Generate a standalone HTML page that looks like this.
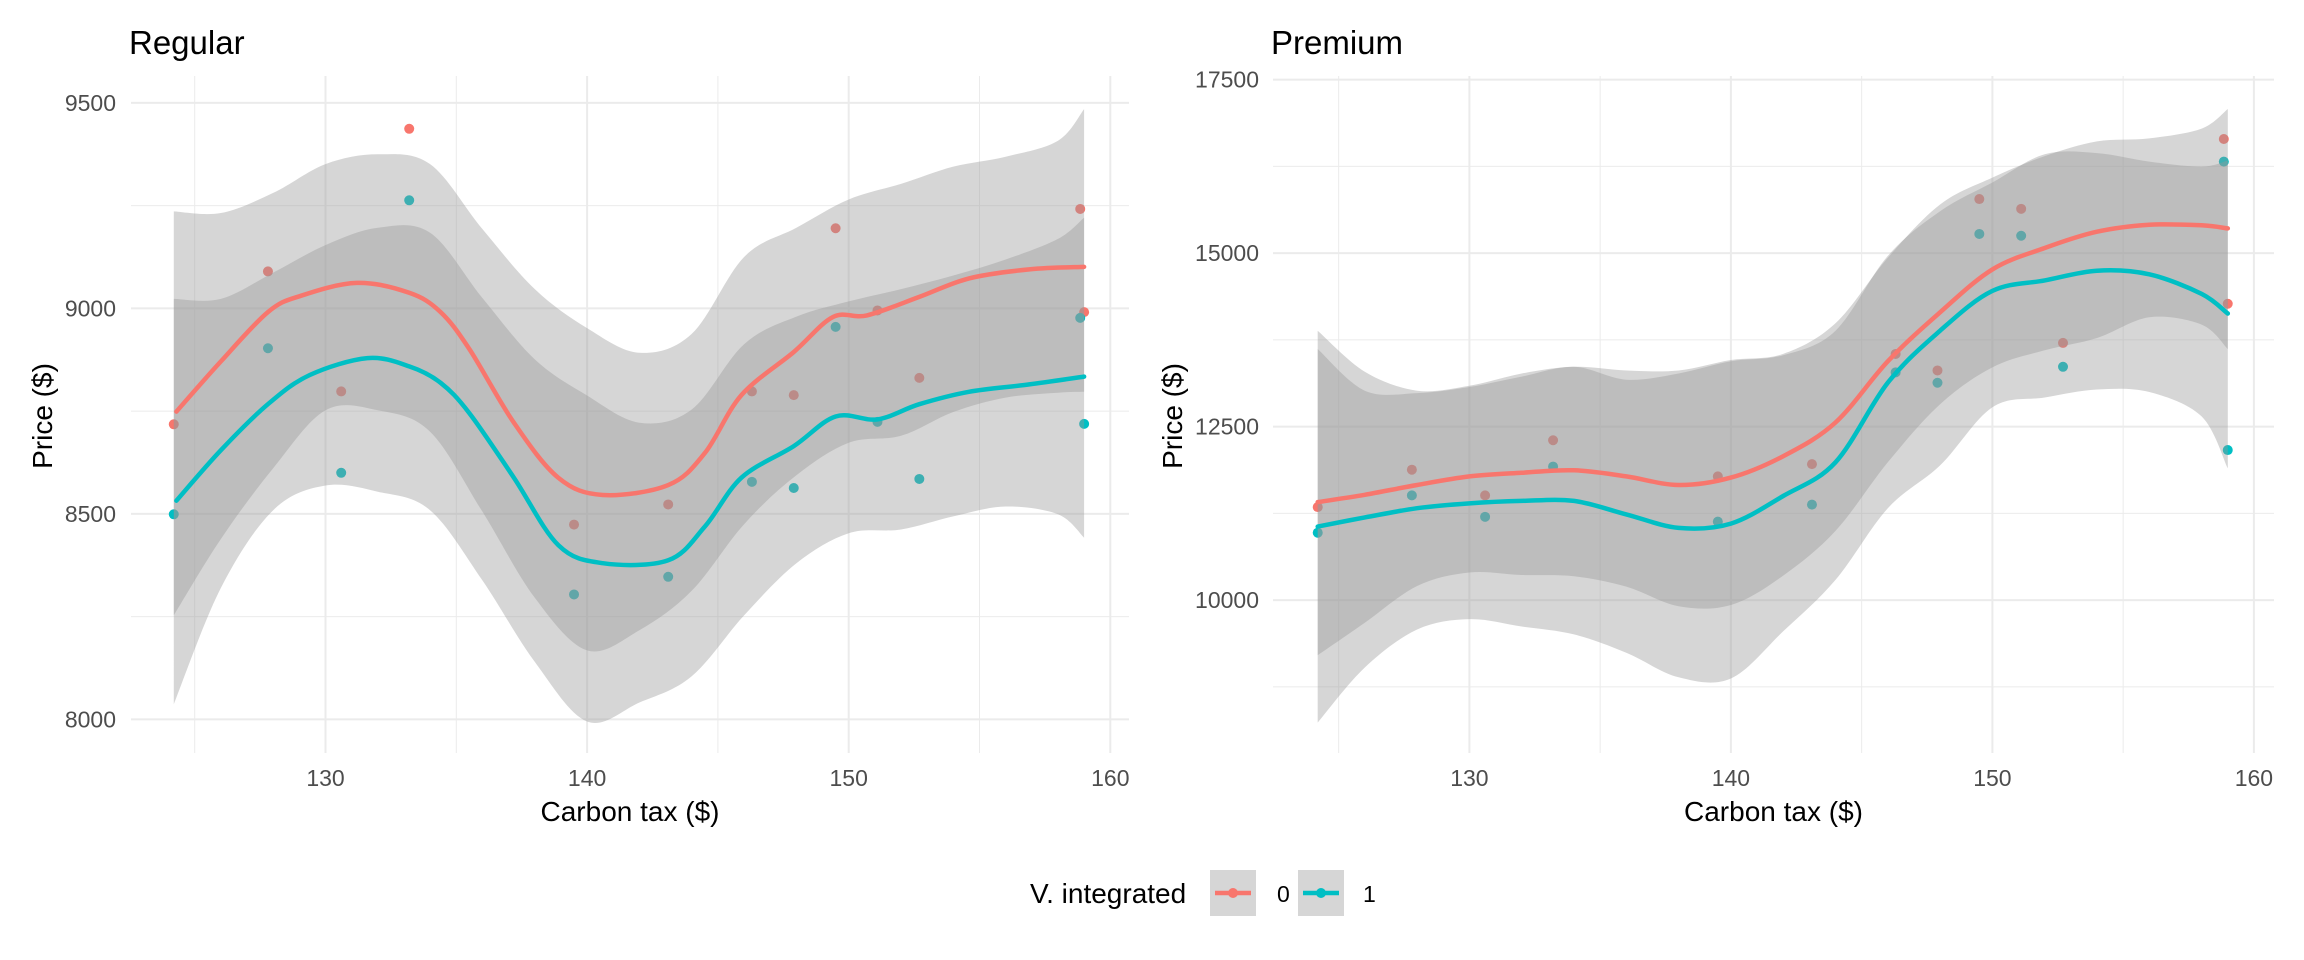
<!DOCTYPE html>
<html><head><meta charset="utf-8"><style>
html,body{margin:0;padding:0;background:#fff;}
svg{display:block;font-family:"Liberation Sans",Arial,sans-serif;}
</style></head><body>
<svg id="chart" width="2304" height="960" viewBox="0 0 2304 960" xmlns="http://www.w3.org/2000/svg"></svg>
<script>
// ---- data ----
const taxPts = [124.2,127.8,130.6,133.2,139.5,143.1,146.3,147.9,149.5,151.1,152.7,158.85,159.0];
const regPts0 = [8718,9090,8798,9437,8474,8523,8798,8789,9195,8995,8831,9242,8991];
const regPts1 = [8499,8903,8600,9263,8304,8347,8578,8563,8955,8724,8585,8977,8719];
const premPts0 = [11341,11879,11509,12303,11782,11959,13547,13309,15779,15638,13706,16644,14270];
const premPts1 = [10971,11509,11200,11924,11130,11376,13282,13132,15276,15250,13362,16318,12162];

const regFitX = [124.3,126.0,127.8,129.07,131.2,133.2,134.4,135.5,137.2,138.9,140.6,143.1,144.5,145.9,147.9,149.4,150.7,152.7,154.6,156.9,159.0];
const regFit0 = [8749,8871,8991,9031,9062,9038,8991,8901,8722,8588,8546,8570,8648,8789,8894,8979,8983,9028,9073,9095,9101];
const regFitX1 = [124.3,126.0,127.8,129.4,131.6,133.2,134.4,135.5,137.2,138.9,140.6,143.1,144.5,145.9,147.9,149.5,151.1,152.7,154.6,156.9,159.0];
const regFit1 = [8532,8655,8767,8838,8879,8859,8819,8745,8588,8424,8380,8387,8469,8588,8665,8737,8730,8767,8797,8815,8834];

const bandX = [124.2,126,128,130,132,134,136,138,140,142,144,146,148,150,152,154,156,158,159];
const regHi0 = [9236,9232,9281,9351,9375,9351,9193,9047,8952,8892,8938,9125,9196,9265,9303,9345,9369,9408,9485];
const regLo0 = [8253,8439,8611,8752,8752,8700,8505,8296,8168,8217,8313,8475,8594,8673,8690,8748,8783,8795,8797];
const regHi1 = [9023,9023,9087,9154,9196,9184,9025,8876,8788,8722,8754,8913,8980,9017,9047,9080,9119,9169,9221];
const regLo1 = [8037,8320,8509,8569,8554,8509,8338,8140,7995,8041,8105,8253,8380,8453,8462,8494,8518,8499,8442];

const premFit0 = [11412,11518,11659,11782,11835,11871,11782,11659,11765,12074,12559,13441,14147,14765,15074,15309,15409,15400,15356];
const premFit1 = [11059,11191,11324,11394,11429,11429,11235,11041,11103,11500,11985,13132,13882,14456,14606,14747,14694,14412,14129];
const premHi0 = [13882,13291,13018,13088,13265,13362,13309,13309,13459,13547,13988,14932,15700,16088,16397,16609,16653,16794,17076];
const premLo0 = [9206,9673,10203,10397,10362,10344,10194,9912,9929,10353,10997,11985,12823,13353,13600,13776,14076,13970,13618];
const premHi1 = [13618,13018,12982,13070,13221,13362,13176,13265,13441,13529,13882,14959,15603,16018,16423,16441,16318,16247,16335];
const premLo1 = [8235,9029,9576,9726,9620,9506,9241,8888,8871,9550,10291,11324,11941,12779,12920,13035,12999,12647,11897];

const xTicks = [130,140,150,160];
const xMinor = [125,135,145,155];
const regYTicks = [8000,8500,9000,9500];
const regYMinor = [8250,8750,9250];
const premYTicks = [10000,12500,15000,17500];
const premYMinor = [8750,11250,13750,16250];

const C0 = '#F8766D', C1 = '#00BFC4';
const NS = 'http://www.w3.org/2000/svg';
const svg = document.getElementById('chart');
function mk(tag, attrs, parent){const e=document.createElementNS(NS,tag);for(const k in attrs)e.setAttribute(k,attrs[k]);(parent||svg).appendChild(e);return e;}

function smooth(pts){
  let d='M'+pts[0][0].toFixed(1)+','+pts[0][1].toFixed(1);
  for(let i=0;i<pts.length-1;i++){
    const p0=pts[Math.max(0,i-1)],p1=pts[i],p2=pts[i+1],p3=pts[Math.min(pts.length-1,i+2)];
    const c1x=p1[0]+(p2[0]-p0[0])/6,c1y=p1[1]+(p2[1]-p0[1])/6;
    const c2x=p2[0]-(p3[0]-p1[0])/6,c2y=p2[1]-(p3[1]-p1[1])/6;
    d+='C'+c1x.toFixed(1)+','+c1y.toFixed(1)+' '+c2x.toFixed(1)+','+c2y.toFixed(1)+' '+p2[0].toFixed(1)+','+p2[1].toFixed(1);
  }
  return d;
}

function panel(cfg){
  const g=mk('g',{});
  
  
  const X=v=>cfg.x0+(v-130)*cfg.xs;
  const Y=v=>cfg.y0+(cfg.yRef-v)*cfg.ys;
  // grid
  cfg.yMinor.forEach(v=>{const l=mk('line',{x1:cfg.left,x2:cfg.right,y1:Y(v),y2:Y(v),stroke:'#ebebeb','stroke-width':1},g);
    });
  xMinor.forEach(v=>{const l=mk('line',{x1:X(v),x2:X(v),y1:cfg.top,y2:cfg.bottom,stroke:'#ebebeb','stroke-width':1},g);
    });
  cfg.yTicks.forEach(v=>{const l=mk('line',{x1:cfg.left,x2:cfg.right,y1:Y(v),y2:Y(v),stroke:'#ebebeb','stroke-width':2},g);
    
    const t=mk('text',{x:cfg.ylabX,y:Y(v)+8,'text-anchor':'end','font-size':23,fill:'#4d4d4d'},g);t.textContent=v;
    });
  xTicks.forEach(v=>{const l=mk('line',{x1:X(v),x2:X(v),y1:cfg.top,y2:cfg.bottom,stroke:'#ebebeb','stroke-width':2},g);
    
    const t=mk('text',{x:X(v),y:786,'text-anchor':'middle','font-size':23,fill:'#4d4d4d'},g);t.textContent=v;
    });
  // points
  [[cfg.p0,C0,'points-0'],[cfg.p1,C1,'points-1']].forEach(([arr,c,n])=>{
    arr.forEach((v,i)=>{const p=mk('circle',{cx:X(taxPts[i]),cy:Y(v),r:5,fill:c},g);
      });
  });
  // ribbons
  [[cfg.hi0,cfg.lo0,'ribbon-0'],[cfg.hi1,cfg.lo1,'ribbon-1']].forEach(([hi,lo,n])=>{
    const up=bandX.map((x,i)=>[X(x),Y(hi[i])]);
    const dn=bandX.map((x,i)=>[X(x),Y(lo[i])]).reverse();
    const d=smooth(up)+'L'+smooth(dn).slice(1)+'Z';
    const r=mk('path',{d:d,fill:'#999999','fill-opacity':0.4},g);
    
  });
  // lines
  [[cfg.fx0,cfg.f0,C0,'smooth-line-0'],[cfg.fx1,cfg.f1,C1,'smooth-line-1']].forEach(([xs,ys,c,n])=>{
    const l=mk('path',{d:smooth(xs.map((x,i)=>[X(x),Y(ys[i])])),fill:'none',stroke:c,'stroke-width':4.5,'stroke-linecap':'round'},g);
    
  });
  const t=mk('text',{x:cfg.left-2,y:54,'font-size':33,fill:'#000'},g);t.textContent=cfg.title;
  
  const xt=mk('text',{x:(cfg.left+cfg.right)/2,y:821,'text-anchor':'middle','font-size':28,fill:'#000'},g);xt.textContent='Carbon tax ($)';
  
  const yt=mk('text',{x:0,y:0,'text-anchor':'middle','font-size':28,fill:'#000',transform:'translate('+(cfg.ytX)+',416) rotate(-90)'},g);yt.textContent='Price ($)';
  
}

panel({name:'regular',title:'Regular',x0:325.5,xs:26.16,y0:102.9,yRef:9500,ys:205.5/500,
  left:131,right:1129,top:76,bottom:753,ylabX:116,ytX:52,
  p0:regPts0,p1:regPts1,hi0:regHi0,lo0:regLo0,hi1:regHi1,lo1:regLo1,
  fx0:regFitX,f0:regFit0,fx1:regFitX1,f1:regFit1,yTicks:regYTicks,yMinor:regYMinor});
panel({name:'premium',title:'Premium',x0:1469.4,xs:26.15,y0:79.6,yRef:17500,ys:520.5/7500,
  left:1273,right:2274,top:76,bottom:753,ylabX:1259,ytX:1182,
  p0:premPts0,p1:premPts1,hi0:premHi0,lo0:premLo0,hi1:premHi1,lo1:premLo1,
  fx0:bandX,f0:premFit0,fx1:bandX,f1:premFit1,yTicks:premYTicks,yMinor:premYMinor});

// legend
const lg=mk('g',{});


const lt=mk('text',{x:1030,y:903,'font-size':28,fill:'#000'},lg);lt.textContent='V. integrated';

[[1210,C0,'0',1277],[1298,C1,'1',1363]].forEach(([kx,c,lab,tx])=>{
  const e=mk('g',{},lg);
  
  
  mk('rect',{x:kx,y:870,width:46,height:46,fill:'#d6d6d6'},e);
  mk('line',{x1:kx+5,x2:kx+41,y1:893,y2:893,stroke:c,'stroke-width':4.5},e);
  mk('circle',{cx:kx+23,cy:893,r:5,fill:c},e);
  const t=mk('text',{x:tx,y:902,'font-size':23,fill:'#000'},e);t.textContent=lab;
});
</script>
</body></html>
